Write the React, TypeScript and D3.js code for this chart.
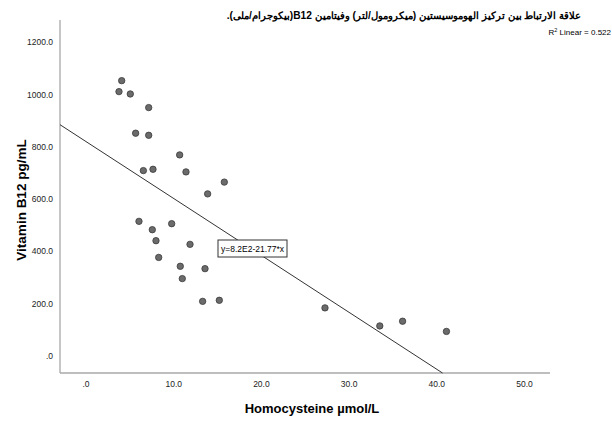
import React from "react";
import * as d3 from "d3";

const homocysteine = [4.07, 3.76, 5.05, 7.15, 5.66, 7.15, 10.68, 6.54, 7.64, 11.4, 15.77, 13.87, 6.04, 7.56, 9.77, 7.98, 11.86, 8.29, 10.75, 13.57, 10.98, 13.3, 15.2, 27.25, 33.5, 36.1, 41.1];
const vitaminB12 = [1053, 1011, 1002, 950, 852, 844, 769, 709, 714, 704, 665, 620, 515, 483, 506, 441, 427, 377, 343, 334, 296, 209, 213, 184, 115, 133, 94];
const xTicks = [0, 10, 20, 30, 40, 50];
const yTicks = [0, 200, 400, 600, 800, 1000, 1200];
const intercept = 820;
const slope = -21.77;

const fmt = (v: number) => (v === 0 ? ".0" : v.toFixed(1));

export default function App() {
  const W = 612, H = 421;
  const left = 60, right = 550, top = 20, bottom = 373;
  const x = d3.scaleLinear().domain([0, 10]).range([86, 173.7]);
  const y = d3.scaleLinear().domain([0, 200]).range([356, 303.7]);
  const xMin = x.invert(left), xMax = x.invert(right);
  const yMin = y.invert(bottom);
  const xEnd = Math.min(xMax, (yMin - intercept) / slope);
  const lineData: [number, number][] = [
    [xMin, intercept + slope * xMin],
    [xEnd, intercept + slope * xEnd],
  ];
  const line = d3.line<[number, number]>().x(d => x(d[0])).y(d => y(d[1]));
  const font = "'Liberation Sans', Arial, sans-serif";
  return (
    <svg width={W} height={H} style={{ position: "absolute", left: 0, top: 0, background: "#fff" }} fontFamily={font}>
      <text x={404} y={19} textAnchor="middle" fontSize={10.2} fontWeight="bold" fill="#000" direction="rtl">
        علاقة الارتباط بين تركيز الهوموسيستين (ميكرومول/لتر) وفيتامين B12(بيكوجرام/ملى).
      </text>
      <text x={611} y={35} textAnchor="end" fontSize={8} fill="#000">
        R<tspan dy={-3.5} fontSize={5.5}>2</tspan><tspan dy={3.5}> Linear = 0.522</tspan>
      </text>
      <line x1={left} y1={top} x2={left} y2={bottom} stroke="#a8a8a8" strokeWidth={1.3} />
      <line x1={left} y1={bottom} x2={right} y2={bottom} stroke="#a8a8a8" strokeWidth={1.3} />
      {yTicks.map(t => (
        <text key={t} x={53} y={y(t) + 3} textAnchor="end" fontSize={8.5} fill="#222">{fmt(t)}</text>
      ))}
      {xTicks.map(t => (
        <text key={t} x={x(t)} y={387} textAnchor="middle" fontSize={8.5} fill="#222">{fmt(t)}</text>
      ))}
      <text x={312} y={413} textAnchor="middle" fontSize={13} fontWeight="bold" fill="#000">Homocysteine µmol/L</text>
      <text transform={`translate(26,200) rotate(-90)`} textAnchor="middle" fontSize={13.5} fontWeight="bold" fill="#000">Vitamin B12 pg/mL</text>
      <path d={line(lineData) || ""} fill="none" stroke="#333" strokeWidth={1} />
      {homocysteine.map((h, i) => (
        <circle key={i} cx={x(h)} cy={y(vitaminB12[i])} r={3.2} fill="#6b6b6b" stroke="#3a3a3a" strokeWidth={0.8} />
      ))}
      <rect x={218} y={240} width={69} height={17} fill="#fff" stroke="#333" strokeWidth={1} />
      <text x={252.5} y={252} textAnchor="middle" fontSize={8.5} fill="#000">y=8.2E2-21.77*x</text>
    </svg>
  );
}
